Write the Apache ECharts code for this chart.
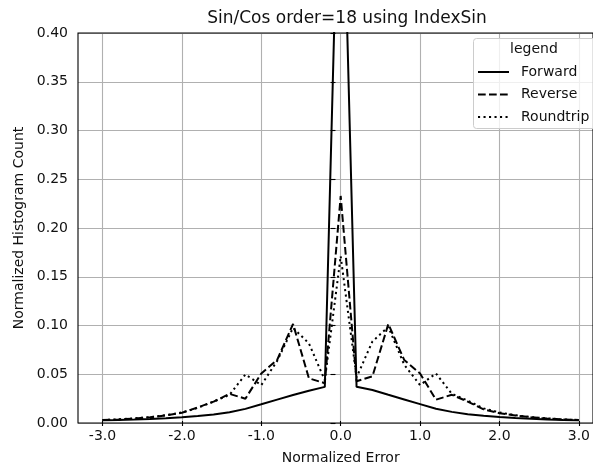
<!DOCTYPE html>
<html>
<head>
<meta charset="utf-8">
<script src="https://cdn.jsdelivr.net/npm/echarts@6/dist/echarts.min.js"></script>
<style>
  html, body { margin: 0; padding: 0; background: #fff; }
  #chart { width: 593px; height: 470px; }
</style>
</head>
<body>
<div id="chart"></div>
<script>
// ---- data ----
const xValues = [-3.0, -2.8, -2.6, -2.4, -2.2, -2.0, -1.8, -1.6, -1.4, -1.2, -1.0, -0.8, -0.6, -0.4, -0.2,
                 0.0, 0.2, 0.4, 0.6, 0.8, 1.0, 1.2, 1.4, 1.6, 1.8, 2.0, 2.2, 2.4, 2.6, 2.8, 3.0];
const forward = [0.0008, 0.0011, 0.0015, 0.0021, 0.0029, 0.0039, 0.0052, 0.0066, 0.0090, 0.0125, 0.0172, 0.0220, 0.0268, 0.0312, 0.0352,
                 0.66, 0.0352, 0.0320, 0.0270, 0.0222, 0.0174, 0.0126, 0.0094, 0.0070, 0.0053, 0.0040, 0.0030, 0.0022, 0.0015, 0.0011, 0.0008];
const reverse = [0.0010, 0.0016, 0.0025, 0.0038, 0.0058, 0.0085, 0.0140, 0.0200, 0.0280, 0.0230, 0.0490, 0.0630, 0.1000, 0.0440, 0.0390,
                 0.232, 0.0410, 0.0460, 0.1000, 0.0630, 0.0490, 0.0220, 0.0270, 0.0200, 0.0120, 0.0080, 0.0057, 0.0038, 0.0025, 0.0016, 0.0010];
const roundtrip = [0.0010, 0.0017, 0.0027, 0.0040, 0.0060, 0.0088, 0.0135, 0.0200, 0.0270, 0.0480, 0.0370, 0.0620, 0.0960, 0.0800, 0.0420,
                   0.170, 0.0450, 0.0820, 0.0970, 0.0580, 0.0370, 0.0490, 0.0280, 0.0210, 0.0130, 0.0088, 0.0060, 0.0040, 0.0027, 0.0017, 0.0010];
const seriesNames = ['Forward', 'Reverse', 'Roundtrip'];
const xTickLabels = ['-3.0', '-2.0', '-1.0', '0.0', '1.0', '2.0', '3.0'];
const yTickLabels = ['0.00', '0.05', '0.10', '0.15', '0.20', '0.25', '0.30', '0.35', '0.40'];

const pairs = arr => xValues.map((x, i) => [x, arr[i]]);
const FONT = 'DejaVu Sans';
const TXT = '#111';
const LW = 2;

const chart = echarts.init(document.getElementById('chart'), null, { renderer: 'canvas' });
const lineBase = { type: 'line', xAxisIndex: 1, yAxisIndex: 1, symbol: 'none', showSymbol: false, animation: false, z: 3 };

chart.setOption({
  animation: false,
  backgroundColor: '#fff',
  title: {
    text: 'Sin/Cos order=18 using IndexSin',
    left: 342, top: 5, textAlign: 'center',
    textStyle: { fontFamily: FONT, fontSize: 17, fontWeight: 'normal', color: TXT }
  },
  grid: [
    { left: 78, top: 33, width: 526, height: 390, show: true, borderColor: '#000', borderWidth: 1.1, backgroundColor: 'transparent', z: 4 },
    { left: 102.5, top: 33, width: 478.2, height: 390 }
  ],
  xAxis: [
    { gridIndex: 0, type: 'value', min: -3.3, max: 3.3, axisLine: { show: false }, axisTick: { show: false },
      axisLabel: { show: false }, splitLine: { show: false } },
    { gridIndex: 1, type: 'value', min: -3, max: 3, interval: 1,
      axisLine: { show: false },
      axisTick: { show: true, length: 5, lineStyle: { color: '#000', width: 1.1 } },
      axisLabel: { margin: 8, fontFamily: FONT, fontSize: 14, color: TXT,
        formatter: v => xTickLabels[Math.round(v + 3)] },
      splitLine: { show: true, lineStyle: { color: '#b0b0b0', width: 1.1 } },
      name: 'Normalized Error', nameLocation: 'middle', nameGap: 30,
      nameTextStyle: { fontFamily: FONT, fontSize: 14, color: TXT } }
  ],
  yAxis: [
    { gridIndex: 0, type: 'value', min: 0, max: 0.4, interval: 0.05,
      axisLine: { show: false },
      axisTick: { show: true, length: 5, lineStyle: { color: '#000', width: 1.1 } },
      axisLabel: { margin: 10, fontFamily: FONT, fontSize: 14, color: TXT,
        formatter: v => yTickLabels[Math.round(v / 0.05)] },
      splitLine: { show: true, lineStyle: { color: '#b0b0b0', width: 1.1 } },
      name: 'Normalized Histogram Count', nameLocation: 'middle', nameGap: 48, nameRotate: 90,
      nameTextStyle: { fontFamily: FONT, fontSize: 14, color: TXT } },
    { gridIndex: 1, type: 'value', min: 0, max: 0.4, show: false }
  ],
  legend: {
    data: seriesNames,
    orient: 'vertical', left: 473, top: 38,
    padding: [27, 4, 5, 4],
    itemWidth: 31, itemHeight: 14, itemGap: 8.5,
    itemStyle: { opacity: 0, borderWidth: 0 },
    backgroundColor: 'transparent', borderWidth: 0,
    textStyle: { fontFamily: FONT, fontSize: 14, color: TXT, padding: [0, 0, 0, 7] },
    z: 10
  },
  graphic: [
    { type: 'rect', z: 6, silent: true,
      shape: { x: 473.5, y: 38.5, width: 150, height: 90, r: 3 },
      style: { fill: 'rgba(255,255,255,0.8)', stroke: '#cccccc', lineWidth: 1 } },
    { type: 'text', left: 510, top: 42, z: 100,
      style: { text: 'legend', font: '14px "DejaVu Sans"', fill: TXT } }
  ],
  series: [
    Object.assign({}, lineBase, { name: seriesNames[0], data: pairs(forward),
      lineStyle: { color: '#000', width: LW, type: 'solid' }, itemStyle: { color: '#000' } }),
    Object.assign({}, lineBase, { name: seriesNames[1], data: pairs(reverse),
      lineStyle: { color: '#000', width: LW, type: [7.7, 3.3] }, itemStyle: { color: '#000' } }),
    Object.assign({}, lineBase, { name: seriesNames[2], data: pairs(roundtrip),
      lineStyle: { color: '#000', width: LW, type: [2.1, 3.4] }, itemStyle: { color: '#000' } })
  ]
});
</script>
</body>
</html>
